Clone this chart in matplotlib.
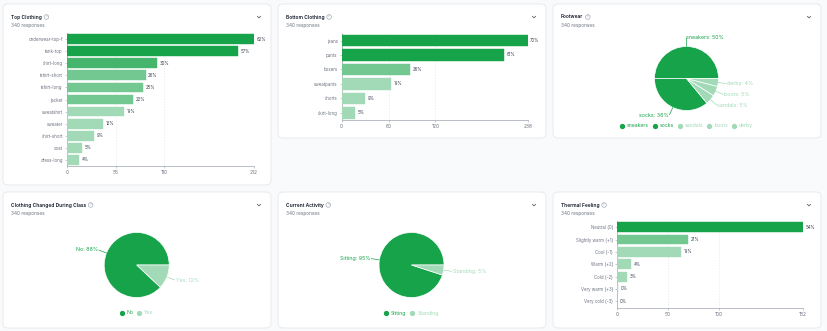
import matplotlib
matplotlib.use("Agg")
import matplotlib.pyplot as plt
import numpy as np
from matplotlib.patches import FancyBboxPatch, Circle
from matplotlib.lines import Line2D

plt.rcParams['font.family'] = ['Inter', 'DejaVu Sans']

TOTAL = 340

# ---------------- data ----------------
top_cats = ["underwear-top-f", "tank-top", "shirt-long", "tshirt-short", "tshirt-long",
            "jacket", "sweatshirt", "sweater", "shirt-short", "coat", "dress-long"]
top_vals = [212, 194, 102, 89, 86, 75, 65, 41, 31, 17, 14]
top_ticks = [0, 55, 110, 212]

bottom_cats = ["jeans", "pants", "boxers", "sweatpants", "shorts", "skirt-long"]
bottom_vals = [238, 208, 88, 63, 30, 17]
bottom_ticks = [0, 60, 120, 238]

thermal_cats = ["Neutral (0)", "Slightly warm (+1)", "Cool (-1)", "Warm (+2)",
                "Cold (-2)", "Very warm (+3)", "Very cold (-3)"]
thermal_vals = [182, 70, 63, 14, 10, 1, 0]
thermal_ticks = [0, 50, 100, 182]

foot_labels = ["sneakers", "socks", "sandals", "boots", "derby"]
foot_pcts = [50, 36, 5, 5, 4]

changed_labels = ["No", "Yes"]
changed_pcts = [88, 12]

activity_labels = ["Sitting", "Standing"]
activity_pcts = [95, 5]

titles = ["Top Clothing", "Bottom Clothing", "Footwear",
          "Clothing Changed During Class", "Current Activity", "Thermal Feeling"]
subtitle = "340 responses"

# ---------------- figure ----------------
W, H = 828, 331
fig = plt.figure(figsize=(W / 100, H / 100), dpi=100)
fig.patch.set_facecolor('#f9fafb')

bg = fig.add_axes([0, 0, 1, 1])
bg.set_xlim(0, W)
bg.set_ylim(H, 0)
bg.axis('off')

GREEN = np.array([22, 163, 74]) / 255.0


def green(alpha):
    return tuple(GREEN * alpha + (1 - alpha))


DARK = green(1.0)
SHADE2 = green(0.8)
SHADE3 = green(0.6)
LIGHT = green(0.4)
TITLE_C = '#111827'
SUB_C = '#6b7280'
AXIS_C = '#9ca3af'


def bar_color(pct):
    if pct >= 40:
        return DARK
    if pct >= 30:
        return SHADE2
    if pct >= 20:
        return SHADE3
    return LIGHT


def fr(x0, y0, x1, y1):
    return [x0 / W, 1 - y1 / H, (x1 - x0) / W, (y1 - y0) / H]


renderer = fig.canvas.get_renderer()

cards = [(3, 4, 271, 185), (278, 4, 546, 138), (553, 4, 821, 138),
         (3, 192, 271, 328), (278, 192, 546, 328), (553, 192, 821, 328)]

for (x0, y0, x1, y1), t in zip(cards, titles):
    bg.add_patch(FancyBboxPatch((x0, y0), x1 - x0, y1 - y0,
                                boxstyle="round,pad=0,rounding_size=5",
                                facecolor='white', edgecolor='#e5e7eb', linewidth=0.6))
    ty = y0 + 13
    tt = bg.text(x0 + 8, ty, t, fontsize=3.5, fontweight='semibold', color=TITLE_C,
                 va='center', ha='left')
    ext = tt.get_window_extent(renderer=renderer)
    qx = ext.x1 + 4.5
    bg.add_patch(Circle((qx, ty), 2.3, facecolor='none', edgecolor=AXIS_C, linewidth=0.45))
    bg.text(qx, ty + 0.1, "?", fontsize=2.5, color=AXIS_C, ha='center', va='center')
    cx = x1 - 12
    bg.plot([cx - 1.6, cx, cx + 1.6], [ty - 0.7, ty + 0.9, ty - 0.7], color='#4b5563', lw=0.55)
    bg.text(x0 + 8, ty + 9, subtitle, fontsize=3.4, color=SUB_C, va='center', ha='left')


def bar_panel(box, cats, vals, ticks):
    x0, y0, x1, y1 = box
    ax = fig.add_axes(fr(x0, y0, x1, y1))
    ax.patch.set_alpha(0)
    n = len(cats)
    y = np.arange(n)
    pcts = [v / TOTAL * 100 for v in vals]
    cols = [bar_color(p) for p in pcts]
    ax.barh(y, vals, height=0.8, color=cols, edgecolor=cols, linewidth=0.3, zorder=3)
    ax.set_ylim(n - 0.5, -0.5)
    ax.set_xlim(0, ticks[-1])
    ax.set_xticks(ticks)
    ax.set_xticklabels([str(t) for t in ticks])
    ax.set_yticks(y)
    ax.set_yticklabels(cats)
    for t in ticks[1:]:
        ax.axvline(t, color='#e5e7eb', lw=0.5, ls=(0, (2, 2)), zorder=1)
    for s in ['top', 'right']:
        ax.spines[s].set_visible(False)
    for s in ['left', 'bottom']:
        ax.spines[s].set_color(AXIS_C)
        ax.spines[s].set_linewidth(0.5)
    ax.tick_params(axis='both', colors=AXIS_C, length=1.5, width=0.4, pad=1.5)
    ax.tick_params(axis='y', labelsize=3.1, labelcolor=SUB_C)
    ax.tick_params(axis='x', labelsize=3.5, labelcolor=SUB_C)
    off = 2.5 / (x1 - x0) * ticks[-1]
    for yi, v, p in zip(y, vals, pcts):
        ax.text(v + off, yi, f"{int(p + 0.5)}%", fontsize=3.1, color='#374151',
                va='center', ha='left', clip_on=False, zorder=4)
    return ax


bar_panel((67, 33, 254, 166), top_cats, top_vals, top_ticks)
bar_panel((341.7, 33.3, 527.7, 120), bottom_cats, bottom_vals, bottom_ticks)
bar_panel((617, 221, 802.7, 307.5), thermal_cats, thermal_vals, thermal_ticks)


def pie_panel(cx, cy, r, labels, pcts, legend_y):
    R = 62
    ax = fig.add_axes(fr(cx - R, cy - R, cx + R, cy + R))
    cols = [DARK if p >= 20 else LIGHT for p in pcts]
    wedges, _ = ax.pie(pcts, colors=cols, startangle=0, counterclock=True, radius=1,
                       wedgeprops=dict(edgecolor='white', linewidth=0.5))
    ax.set_xlim(-R / r, R / r)
    ax.set_ylim(-R / r, R / r)
    ax.axis('off')
    for w, lab, p, c in zip(wedges, labels, pcts, cols):
        th = np.deg2rad((w.theta1 + w.theta2) / 2)
        dx, dy = np.cos(th), np.sin(th)
        ax.plot([dx, dx * 1.25], [dy, dy * 1.25], color=c, lw=0.5, clip_on=False)
        ha = 'left' if dx >= -1e-6 else 'right'
        ax.text(dx * 1.29, dy * 1.29, f"{lab}: {p}%", color=c, fontsize=3.8,
                ha=ha, va='center', clip_on=False)
    handles = [Line2D([], [], marker='o', linestyle='', markersize=2.8,
                      markerfacecolor=c, markeredgecolor=c) for c in cols]
    ax.legend(handles, labels, loc='center', bbox_to_anchor=(cx / W, 1 - legend_y / H),
              bbox_transform=fig.transFigure, ncol=len(labels), frameon=False,
              fontsize=3.7, labelcolor=cols, handlelength=0.7, handletextpad=0.6,
              columnspacing=0.8, borderpad=0)
    return ax


pie_panel(686.5, 78.5, 32, foot_labels, foot_pcts, 126)
pie_panel(136.7, 265, 32.5, changed_labels, changed_pcts, 313)
pie_panel(411.5, 265, 32.5, activity_labels, activity_pcts, 313)

fig.savefig("out.png", dpi=100, facecolor=fig.get_facecolor())
